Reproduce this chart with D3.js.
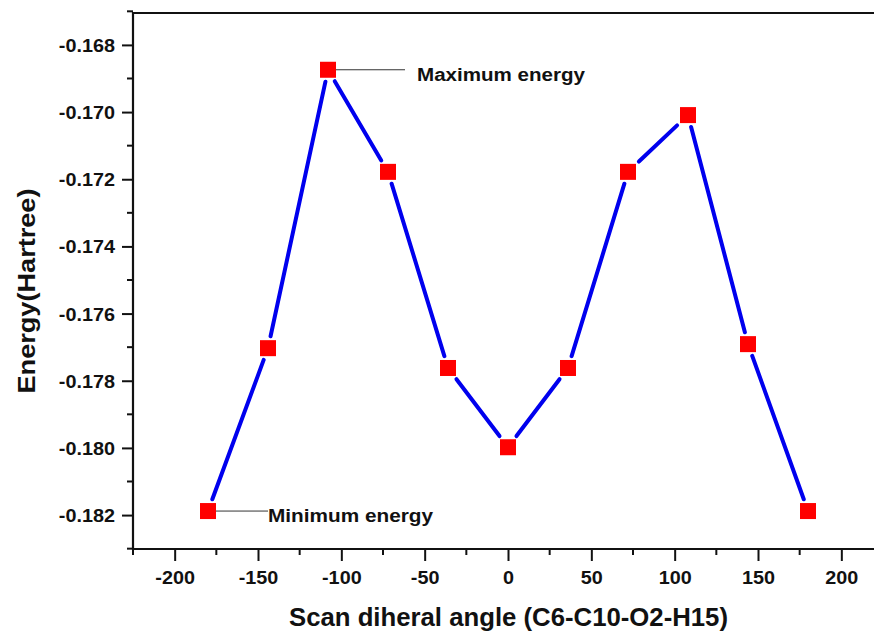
<!DOCTYPE html>
<html><head><meta charset="utf-8">
<script src="https://cdn.jsdelivr.net/npm/d3@7"></script>
<style>body{margin:0;background:#fff}svg{display:block;font-family:"Liberation Sans",Arial,sans-serif}</style>
</head><body>
<svg id="c" width="874" height="636"></svg>
<script>
const angles = [-180, -144, -108, -72, -36, 0, 36, 72, 108, 144, 180];
const energies = [-0.18188, -0.17703, -0.16874, -0.17178, -0.17762, -0.17998, -0.17762, -0.17178, -0.17009, -0.17691, -0.18188];
const xTicks = [-200, -150, -100, -50, 0, 50, 100, 150, 200];
const yTicks = [-0.182, -0.180, -0.178, -0.176, -0.174, -0.172, -0.170, -0.168];
const annotations = [
  {label: "Maximum energy", angle: -108, energy: -0.16874},
  {label: "Minimum energy", angle: -180, energy: -0.18188}
];
const xTitle = "Scan diheral angle (C6-C10-O2-H15)";
const yTitle = "Energy(Hartree)";

const svg = d3.select("#c");
const L = 133, R = 883, T = 13, B = 549;
const x = d3.scaleLinear().domain([-225, 225]).range([L, R]);
const y = d3.scaleLinear().domain([-0.18301, -0.16705]).range([B, T]);
const INK = "#111";

function stretch(sel, f) {
  sel.each(function () {
    const w = this.getComputedTextLength();
    d3.select(this).attr("textLength", w * f).attr("lengthAdjust", "spacingAndGlyphs");
  });
}

// minor ticks
const xMinor = d3.range(-225, 226, 25).filter(v => !xTicks.includes(v));
const yMinor = d3.range(-0.183, -0.1665, 0.001).map(v => +v.toFixed(3)).filter(v => !yTicks.some(t => Math.abs(t - v) < 1e-7));

svg.append("g").selectAll("line").data(xMinor).join("line")
  .attr("x1", d => x(d)).attr("x2", d => x(d)).attr("y1", B).attr("y2", B + 6)
  .attr("stroke", INK).attr("stroke-width", 2);
svg.append("g").selectAll("line").data(yMinor).join("line")
  .attr("y1", d => y(d)).attr("y2", d => y(d)).attr("x1", L).attr("x2", L - 6)
  .attr("stroke", INK).attr("stroke-width", 2);

const hyphen = f => d => f(d).replace("\u2212", "-");
const xAxis = svg.append("g").attr("transform", `translate(0,${B})`)
  .call(d3.axisBottom(x).tickValues(xTicks).tickSize(12).tickFormat(hyphen(d3.format("d"))));
const yAxis = svg.append("g").attr("transform", `translate(${L},0)`)
  .call(d3.axisLeft(y).tickValues(yTicks).tickSize(11).tickPadding(7).tickFormat(hyphen(d3.format(".3f"))));
[xAxis, yAxis].forEach(g => {
  g.select(".domain").remove();
  g.selectAll(".tick line").attr("stroke", INK).attr("stroke-width", 2);
  g.selectAll("text").attr("font-size", 18).attr("font-weight", "bold").attr("fill", INK)
    .attr("font-family", "'Liberation Sans', Arial, sans-serif");
});
xAxis.selectAll("text").attr("y", 35).attr("dy", 0);
yAxis.selectAll("text").attr("dy", "0.36em");
stretch(xAxis.selectAll("text"), 1.1);
stretch(yAxis.selectAll("text"), 1.1);

// frame
svg.append("line").attr("x1", L).attr("x2", 874).attr("y1", B).attr("y2", B).attr("stroke", INK).attr("stroke-width", 2.2);
svg.append("line").attr("x1", L).attr("x2", 874).attr("y1", T).attr("y2", T).attr("stroke", INK).attr("stroke-width", 2.2);
svg.append("line").attr("x1", L).attr("x2", L).attr("y1", T - 1).attr("y2", B + 1).attr("stroke", INK).attr("stroke-width", 2.2);

// line segments with small gaps near markers
const pts = angles.map((a, i) => [x(a), y(energies[i])]);
const segs = [];
for (let i = 0; i < pts.length - 1; i++) {
  const [x1, y1] = pts[i], [x2, y2] = pts[i + 1];
  const dx = x2 - x1, dy = y2 - y1, len = Math.hypot(dx, dy);
  const ux = dx / len, uy = dy / len;
  const h = 8;
  const g = Math.min(h / Math.max(Math.abs(ux), 1e-9), h / Math.max(Math.abs(uy), 1e-9)) + 4;
  segs.push([x1 + ux * g, y1 + uy * g, x2 - ux * g, y2 - uy * g]);
}
svg.append("g").selectAll("line").data(segs).join("line")
  .attr("x1", d => d[0]).attr("y1", d => d[1]).attr("x2", d => d[2]).attr("y2", d => d[3])
  .attr("stroke", "#0000ee").attr("stroke-width", 4).attr("stroke-linecap", "round");

// annotation leader lines
svg.append("line").attr("x1", x(annotations[0].angle)).attr("x2", 405)
  .attr("y1", y(annotations[0].energy)).attr("y2", y(annotations[0].energy)).attr("stroke", "#333").attr("stroke-width", 1);
svg.append("line").attr("x1", x(annotations[1].angle)).attr("x2", 268)
  .attr("y1", y(annotations[1].energy)).attr("y2", y(annotations[1].energy)).attr("stroke", "#333").attr("stroke-width", 1);

// markers
svg.append("g").selectAll("rect").data(angles.map((a, i) => [a, energies[i]])).join("rect")
  .attr("x", d => x(d[0]) - 8).attr("y", d => y(d[1]) - 8).attr("width", 16).attr("height", 16)
  .attr("fill", "#f00");

// annotation texts
svg.append("text").attr("x", 417).attr("y", 81)
  .attr("font-size", 18).attr("font-weight", "bold").attr("fill", INK)
  .attr("textLength", 168).attr("lengthAdjust", "spacingAndGlyphs").text(annotations[0].label);
svg.append("text").attr("x", 268).attr("y", 522)
  .attr("font-size", 18).attr("font-weight", "bold").attr("fill", INK)
  .attr("textLength", 165).attr("lengthAdjust", "spacingAndGlyphs").text(annotations[1].label);

// axis titles
svg.append("text").attr("x", 508.5).attr("y", 626).attr("text-anchor", "middle")
  .attr("font-size", 25).attr("font-weight", "bold").attr("fill", INK)
  .attr("textLength", 439).attr("lengthAdjust", "spacingAndGlyphs").text(xTitle);
svg.append("text").attr("transform", "translate(35,291) rotate(-90)").attr("text-anchor", "middle")
  .attr("font-size", 24).attr("font-weight", "bold").attr("fill", INK)
  .attr("textLength", 205).attr("lengthAdjust", "spacingAndGlyphs").text(yTitle);
</script>
</body></html>
